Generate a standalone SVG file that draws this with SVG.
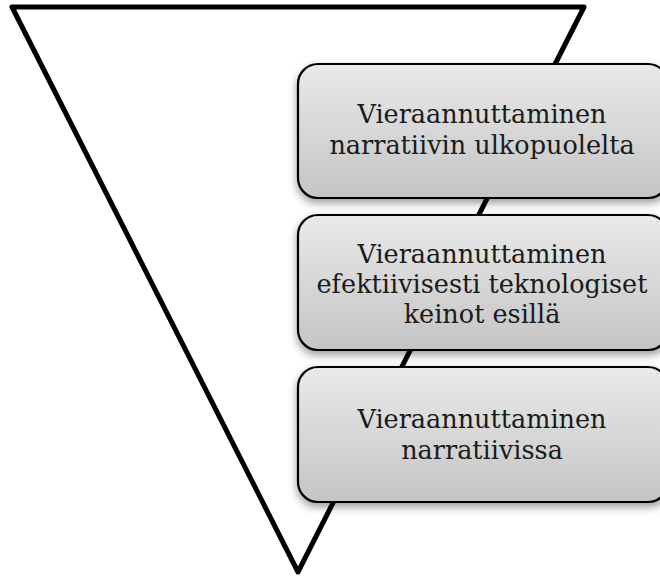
<svg xmlns="http://www.w3.org/2000/svg" width="660" height="577" viewBox="0 0 660 577">
<defs>
<linearGradient id="g" x1="0" y1="0" x2="0" y2="1">
<stop offset="0" stop-color="#eaeaea"/>
<stop offset="1" stop-color="#c4c4c4"/>
</linearGradient>
<filter id="sh" x="-10%" y="-10%" width="120%" height="135%">
<feDropShadow dx="0" dy="4" stdDeviation="4" flood-color="#000" flood-opacity="0.4"/>
</filter>
<style>
.box{fill:url(#g);stroke:#000;stroke-width:2.2;filter:url(#sh)}
.t{font-family:"DejaVu Serif","Liberation Serif",serif;font-size:25.5px;fill:#1a1a1a;text-anchor:middle}
</style>
</defs>
<rect width="660" height="577" fill="#fff"/>
<g id="triangle">
<polygon points="12,7 584,7 298,572" fill="#fff" stroke="#000" stroke-width="5" stroke-linejoin="round"/>
</g>
<g id="connectors"/>
<g id="node1">
<rect class="box" x="298" y="64" width="370" height="134" rx="20" ry="20"/>
<text class="t" x="482" y="123">Vieraannuttaminen</text>
<text class="t" x="482" y="154">narratiivin ulkopuolelta</text>
</g>
<g id="node2">
<rect class="box" x="298" y="215" width="370" height="135" rx="20" ry="20"/>
<text class="t" x="482" y="263">Vieraannuttaminen</text>
<text class="t" x="482" y="293">efektiivisesti teknologiset</text>
<text class="t" x="482" y="323">keinot esillä</text>
</g>
<g id="node3">
<rect class="box" x="298" y="367" width="370" height="135" rx="20" ry="20"/>
<text class="t" x="482" y="428">Vieraannuttaminen</text>
<text class="t" x="482" y="459">narratiivissa</text>
</g>
</svg>
